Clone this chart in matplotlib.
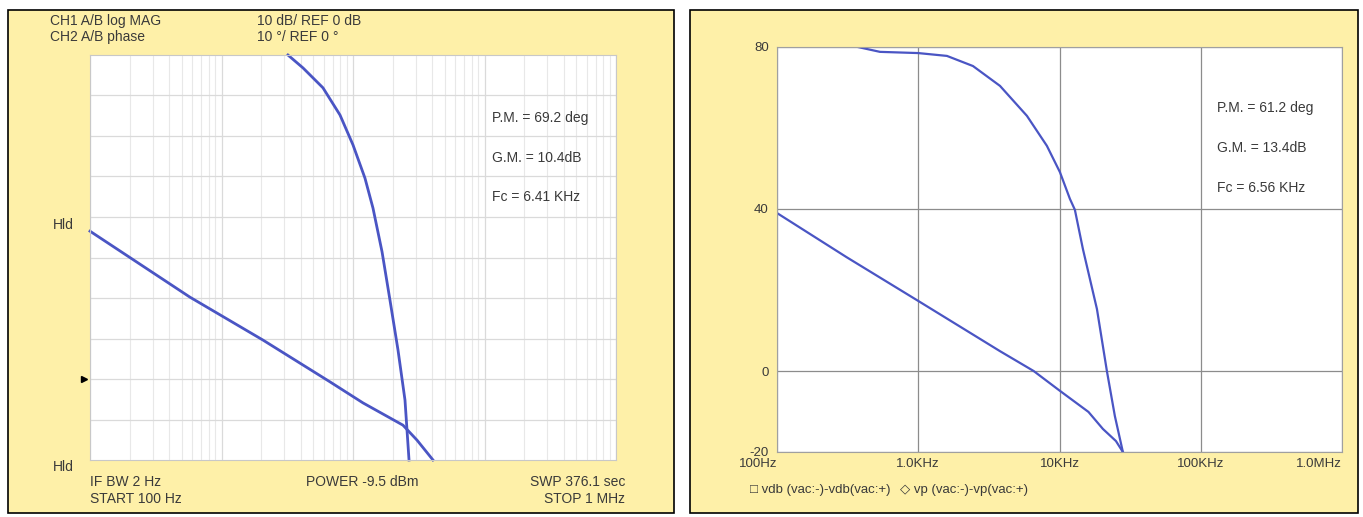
import matplotlib
matplotlib.use('Agg')
import matplotlib.pyplot as plt
from matplotlib.patches import Rectangle
from matplotlib.ticker import FixedLocator, NullFormatter, LogLocator

plt.rcParams['font.family'] = ['Liberation Sans', 'DejaVu Sans']

# left chart: network analyser trace (10 dB/div and 10 deg/div, top = REF 0)
left_mag_freq = [100, 576, 2070, 6680, 11910, 23990, 30680, 40580]
left_mag_db = [-43.5, -59.8, -70.4, -80.7, -85.9, -91.4, -95.1, -100]
left_ph_freq = [3200, 4170, 5910, 7960, 10000, 12330, 14190, 16630, 19100, 21980, 24850, 26670]
left_ph_deg = [0, -3.2, -8.1, -14.8, -22.2, -30.4, -37.8, -48.6, -60.5, -72.8, -85.2, -100]
left_notes = ['P.M. = 69.2 deg', 'G.M. = 10.4dB', 'Fc = 6.41 KHz']

# right chart: simulation
right_mag_freq = [100, 311, 1000, 3790, 6560, 10070, 16030, 20280, 25100, 28100]
right_mag_db = [39, 28.1, 17.3, 4.9, 0, -4.9, -10.1, -14.3, -17.3, -20]
right_ph_freq = [374, 434, 536, 1000, 1596, 2440, 3790, 5880, 8140, 10070, 11850, 12850,
                 14650, 18410, 21650, 24650, 28100]
right_ph_deg = [80, 79.5, 78.8, 78.5, 77.8, 75.3, 70.4, 63.0, 55.6, 49.1, 42.5, 39.8,
                30.1, 15.3, 0, -11.1, -20]
right_yticks = [80, 40, 0, -20]
right_xticks = [100, 1000, 10000, 100000, 1000000]
right_xlabels = ['100Hz', '1.0KHz', '10KHz', '100KHz', '1.0MHz']
right_notes = ['P.M. = 61.2 deg', 'G.M. = 13.4dB', 'Fc = 6.56 KHz']
right_legend = ['□ vdb (vac:-)-vdb(vac:+)', '◇ vp (vac:-)-vp(vac:+)']

W, H = 1363, 517
yellow = '#fef0a8'
blue = '#4a55c4'
txt = '#3a3a3a'
fs = 10

fig = plt.figure(figsize=(W / 100, H / 100), dpi=100)

def px(x, y):
    # pixel coords (top-left origin) -> figure fraction
    return x / W, 1 - y / H

# yellow panels, kept behind the axes
for x0, x1 in [(8, 674), (690, 1358)]:
    fig.patches.append(Rectangle((x0 / W, 1 - 513 / H), (x1 - x0) / W, (513 - 10) / H,
                                 transform=fig.transFigure, facecolor=yellow,
                                 edgecolor='black', linewidth=1.2, zorder=-10))

# ---- left chart ----
ax1 = fig.add_axes([90 / W, 1 - 460 / H, 526 / W, 405 / H])
ax1.set_facecolor('white')
ax1.set_xscale('log')
ax1.set_xlim(100, 1e6)
ax1.set_ylim(-100, 0)
ax1.xaxis.set_major_locator(FixedLocator([1e2, 1e3, 1e4, 1e5, 1e6]))
ax1.xaxis.set_minor_locator(LogLocator(base=10, subs=range(2, 10)))
ax1.yaxis.set_major_locator(FixedLocator(range(-90, 0, 10)))
ax1.xaxis.set_major_formatter(NullFormatter())
ax1.xaxis.set_minor_formatter(NullFormatter())
ax1.yaxis.set_major_formatter(NullFormatter())
ax1.tick_params(which='both', length=0)
ax1.grid(which='major', color='#dadada', linewidth=0.9)
ax1.grid(which='minor', axis='x', color='#e8e8e8', linewidth=0.8)
for s in ax1.spines.values():
    s.set_color('#c8c8c8')
ax1.plot(left_mag_freq, left_mag_db, color=blue, linewidth=2.0, clip_on=False)
ax1.plot(left_ph_freq, left_ph_deg, color=blue, linewidth=2.0, clip_on=False)
for i, t in enumerate(left_notes):
    fig.text(*px(492, 118 + 39.5 * i), t, fontsize=fs, color=txt, va='center')
ax1.plot([-0.012], [0.2], marker='>', color='black', markersize=5,
         transform=ax1.transAxes, clip_on=False)

fig.text(*px(50, 21), 'CH1 A/B log MAG', fontsize=fs, color=txt, va='center')
fig.text(*px(50, 37), 'CH2 A/B phase', fontsize=fs, color=txt, va='center')
fig.text(*px(257, 21), '10 dB/ REF 0 dB', fontsize=fs, color=txt, va='center')
fig.text(*px(257, 37), '10 °/ REF 0 °', fontsize=fs, color=txt, va='center')
fig.text(*px(53, 225), 'Hld', fontsize=fs, color=txt, va='center')
fig.text(*px(53, 467), 'Hld', fontsize=fs, color=txt, va='center')
fig.text(*px(90, 482), 'IF BW 2 Hz', fontsize=fs, color=txt, va='center')
fig.text(*px(90, 499), 'START 100 Hz', fontsize=fs, color=txt, va='center')
fig.text(*px(362, 482), 'POWER -9.5 dBm', fontsize=fs, color=txt, va='center', ha='center')
fig.text(*px(625, 482), 'SWP 376.1 sec', fontsize=fs, color=txt, va='center', ha='right')
fig.text(*px(625, 499), 'STOP 1 MHz', fontsize=fs, color=txt, va='center', ha='right')

# ---- right chart ----
ax2 = fig.add_axes([777 / W, 1 - 452 / H, 565 / W, 405 / H])
ax2.set_facecolor('white')
ax2.set_xscale('log')
ax2.set_xlim(100, 1e6)
ax2.set_ylim(-20, 80)
ax2.set_yticks(right_yticks)
ax2.set_yticklabels([str(v) for v in right_yticks], fontsize=9.5, color=txt)
ax2.set_xticks(right_xticks)
ax2.set_xticklabels(right_xlabels, fontsize=9.5, color=txt)
ax2.xaxis.set_minor_locator(FixedLocator([]))
ax2.tick_params(axis='y', length=0, pad=6)
ax2.tick_params(axis='x', length=0, pad=4)
ax2.grid(True, color='#8c8c8c', linewidth=0.9)
for s in ax2.spines.values():
    s.set_color('#a0a0a0')
labs = ax2.get_xticklabels()
labs[0].set_ha('right')
labs[-1].set_ha('right')
ax2.plot(right_mag_freq, right_mag_db, color=blue, linewidth=1.6)
ax2.plot(right_ph_freq, right_ph_deg, color=blue, linewidth=1.6)
for i, t in enumerate(right_notes):
    fig.text(*px(1217, 108 + 40 * i), t, fontsize=fs, color=txt, va='center')
fig.text(*px(750, 490), right_legend[0], fontsize=9.5, color=txt, va='center')
fig.text(*px(900, 490), right_legend[1], fontsize=9.5, color=txt, va='center')

fig.savefig('out.png', dpi=100)
